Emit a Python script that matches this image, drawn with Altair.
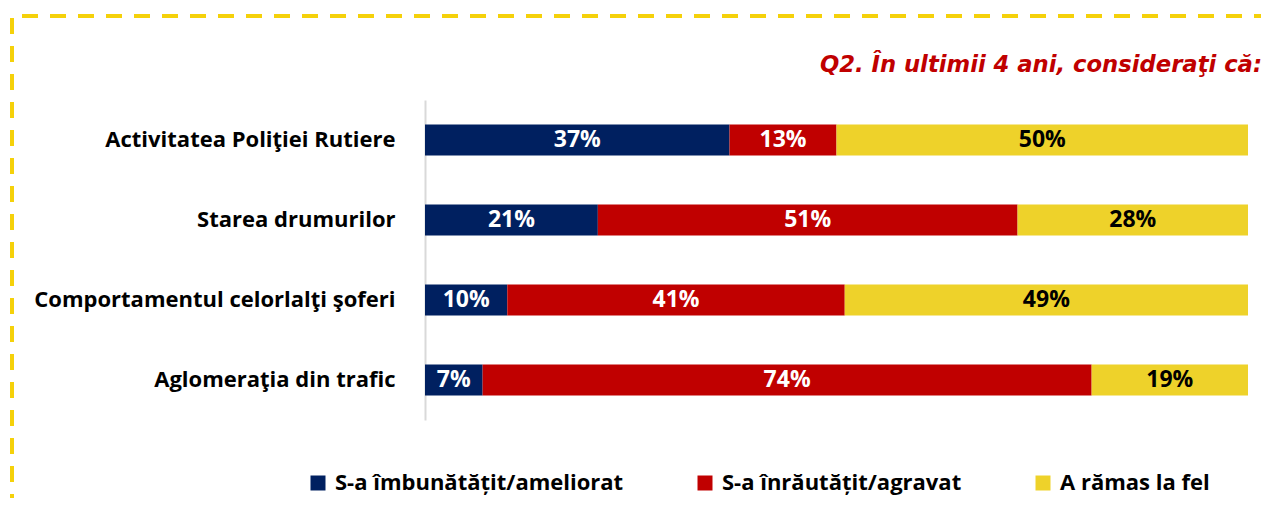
import altair as alt
import pandas as pd

categories = [
    "Activitatea Poliţiei Rutiere",
    "Starea drumurilor",
    "Comportamentul celorlalţi şoferi",
    "Aglomeraţia din trafic",
]
series = ["S-a îmbunătățit/ameliorat", "S-a înrăutățit/agravat", "A rămas la fel"]
improved = [37, 21, 10, 7]
worsened = [13, 51, 41, 74]
same = [50, 28, 49, 19]
colors = ["#002060", "#C00000", "#EED22A"]
title_text = "Q2. În ultimii 4 ani, consideraţi că:"

rows = []
for i, c in enumerate(categories):
    for j, v in enumerate([improved[i], worsened[i], same[i]]):
        rows.append({"cat": c, "series": series[j], "value": v, "order": j, "label": f"{v}%"})
df = pd.DataFrame(rows)

font = "Open Sans"

y = alt.Y(
    "cat:N", sort=categories, title=None,
    scale=alt.Scale(paddingInner=0.6125, paddingOuter=0.306),
    axis=alt.Axis(labelFont=font, labelFontSize=22, labelFontWeight="bold", labelColor="#000000",
                  labelPadding=30, ticks=False, domainColor="#D9D9D9", domainWidth=2,
                  labelLimit=420, grid=False),
)

bars = alt.Chart(df).mark_bar().encode(
    x=alt.X("value:Q", stack="zero", scale=alt.Scale(domain=[0, 100]), axis=None),
    y=y,
    color=alt.Color(
        "series:N", sort=series,
        scale=alt.Scale(domain=series, range=colors),
        legend=alt.Legend(title=None, orient="none", legendX=-118, legendY=372,
                          direction="horizontal", symbolType="square", symbolSize=225,
                          symbolStrokeWidth=0, labelFont=font, labelFontSize=22,
                          labelFontWeight="bold", labelColor="#000000", labelLimit=500,
                          columnPadding=70, labelOffset=6),
    ),
    order=alt.Order("order:Q"),
)

text = alt.Chart(df).transform_stack(
    stack="value", groupby=["cat"], as_=["x0", "x1"], sort=[alt.SortField("order")]
).transform_calculate(mid="(datum.x0 + datum.x1) / 2").mark_text(
    font=font, fontSize=23, fontWeight="bold", baseline="middle", align="center"
).encode(
    x=alt.X("mid:Q", scale=alt.Scale(domain=[0, 100]), axis=None),
    y=alt.Y("cat:N", sort=categories),
    text="label:N",
    color=alt.condition(alt.datum.order == 2, alt.value("#000000"), alt.value("#FFFFFF")),
)

one = alt.Data(values=[{}])
top_rule = alt.Chart(one).mark_rule(stroke="#F5D10A", strokeWidth=4, strokeDash=[16, 12]).encode(
    x=alt.value(-403), x2=alt.value(850), y=alt.value(-84))
left_rule = alt.Chart(one).mark_rule(stroke="#F5D10A", strokeWidth=4, strokeDash=[16, 12]).encode(
    x=alt.value(-413), y=alt.value(-82), y2=alt.value(410))

chart = alt.layer(bars, text, top_rule, left_rule).properties(
    width=823, height=320,
    background="white",
    title=alt.TitleParams(title_text, anchor="end", frame="group", font="DejaVu Sans",
                          fontSize=22.7, fontStyle="italic", fontWeight="bold", color="#C00000",
                          dx=14, offset=0, baseline="alphabetic", dy=81),
    autosize=alt.AutoSizeParams(type="none"),
    padding={"left": 417, "top": 92, "right": 13, "bottom": 78},
).configure_view(strokeWidth=0, stroke="transparent")

chart.save("out.html", embed_options={"renderer": "svg", "actions": False})
